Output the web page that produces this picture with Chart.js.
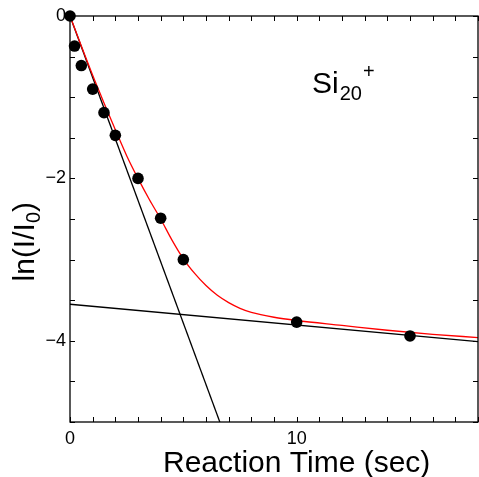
<!DOCTYPE html>
<html>
<head>
<meta charset="utf-8">
<script src="https://cdn.jsdelivr.net/npm/chart.js@4.4.1/dist/chart.umd.min.js"></script>
<style>
  html, body { margin: 0; padding: 0; background: #fff; }
  #wrap { width: 479px; height: 477px; position: relative; }
</style>
</head>
<body>
<div id="wrap"><canvas id="decayChart"></canvas></div>
<script>
// measured points
var reactionTime = [0, 0.2, 0.5, 1, 1.5, 2, 3, 4, 5, 10, 15];
var lnRatio      = [0, -0.37, -0.61, -0.90, -1.19, -1.47, -2.0, -2.49, -3.0, -3.77, -3.94];

// red fit curve
var fitTime = [0, 0.5, 1, 1.5, 2, 2.5, 3, 3.5, 4, 4.5, 5, 5.5, 6, 6.5, 7, 7.5, 8, 9, 10, 12, 14, 16, 18];
var fitLn   = [0, -0.37, -0.73, -1.07, -1.40, -1.72, -2.00, -2.26, -2.50, -2.76, -2.99, -3.17, -3.32, -3.44, -3.53, -3.60, -3.65, -3.71, -3.75, -3.81, -3.87, -3.92, -3.96];

// two straight component lines
var fastLineTime = [0, 6.61];
var fastLineLn   = [0, -5];
var slowLineTime = [0, 18];
var slowLineLn   = [-3.55, -4.01];

// axis ticks
var xLabelTicks = [0, 10];
var yLabelTicks = [-4, -2, 0];

function toPoints(xs, ys) {
    return xs.map(function (x, i) { return { x: x, y: ys[i] }; });
}

var FONT = '"Liberation Sans", Arial, Helvetica, sans-serif';

var frameAndTicks = {
    id: 'frameAndTicks',
    afterDatasetsDraw: function (chart) {
        var ctx = chart.ctx, a = chart.chartArea;
        var xs = chart.scales.x, ys = chart.scales.y;
        var len = 5;
        ctx.save();
        ctx.strokeStyle = '#000';
        ctx.lineWidth = 1.3;
        ctx.strokeRect(a.left, a.top, a.right - a.left, a.bottom - a.top);
        ctx.lineWidth = 1;
        ctx.beginPath();
        xs.ticks.forEach(function (t) {
            var px = Math.round(xs.getPixelForValue(t.value)) + 0.5;
            ctx.moveTo(px, a.bottom); ctx.lineTo(px, a.bottom - len);
            ctx.moveTo(px, a.top);    ctx.lineTo(px, a.top + len);
        });
        ys.ticks.forEach(function (t) {
            var py = Math.round(ys.getPixelForValue(t.value)) + 0.5;
            ctx.moveTo(a.left, py);  ctx.lineTo(a.left + len, py);
            ctx.moveTo(a.right, py); ctx.lineTo(a.right - len, py);
        });
        ctx.stroke();

        ctx.fillStyle = '#000';
        ctx.textBaseline = 'alphabetic';
        ctx.textAlign = 'left';

        // x title
        ctx.font = '30px ' + FONT;
        var xt = 'Reaction Time (sec)';
        var xw = ctx.measureText(xt).width;
        ctx.fillText(xt, xs.getPixelForValue(10) - xw / 2, 472);

        // y title ln(I/I0)
        ctx.save();
        ctx.translate(34, ys.getPixelForValue(-2.78));
        ctx.rotate(-Math.PI / 2);
        ctx.font = '30px ' + FONT;
        var p1 = 'ln(I/I', p3 = ')';
        var w1 = ctx.measureText(p1).width, w3 = ctx.measureText(p3).width;
        ctx.font = '20px ' + FONT;
        var w2 = ctx.measureText('0').width;
        var sx = -(w1 + w2 + w3) / 2;
        ctx.font = '30px ' + FONT;
        ctx.fillText(p1, sx, 0);
        ctx.font = '20px ' + FONT;
        ctx.fillText('0', sx + w1, 6);
        ctx.font = '30px ' + FONT;
        ctx.fillText(p3, sx + w1 + w2, 0);
        ctx.restore();

        // Si20+ label
        ctx.font = '30px ' + FONT;
        ctx.fillText('Si', 312, 93);
        var sw = ctx.measureText('Si').width;
        ctx.font = '20px ' + FONT;
        ctx.fillText('20', 312 + sw + 1, 100);
        var nw = ctx.measureText('20').width;
        ctx.fillText('+', 312 + sw + nw + 2, 78);
        ctx.restore();
    }
};

new Chart(document.getElementById('decayChart').getContext('2d'), {
    type: 'scatter',
    data: {
        datasets: [
            {
                data: toPoints(fastLineTime, fastLineLn),
                showLine: true,
                borderColor: '#000',
                borderWidth: 1.3,
                pointRadius: 0,
                order: 3
            },
            {
                data: toPoints(slowLineTime, slowLineLn),
                showLine: true,
                borderColor: '#000',
                borderWidth: 1.3,
                pointRadius: 0,
                order: 3
            },
            {
                data: toPoints(fitTime, fitLn),
                showLine: true,
                borderColor: '#ff0000',
                borderWidth: 1.3,
                pointRadius: 0,
                cubicInterpolationMode: 'monotone',
                order: 2
            },
            {
                data: toPoints(reactionTime, lnRatio),
                showLine: false,
                pointRadius: 5.8,
                pointBackgroundColor: '#000',
                pointBorderWidth: 0,
                clip: 10,
                order: 1
            }
        ]
    },
    options: {
        responsive: true,
        maintainAspectRatio: false,
        animation: false,
        layout: { autoPadding: false, padding: { top: 16, right: 1, left: 0, bottom: 0 } },
        plugins: {
            legend: { display: false },
            tooltip: { enabled: false }
        },
        scales: {
            x: {
                min: 0,
                max: 18,
                afterFit: function (s) {
                    s.height = 55;
                    s.paddingLeft = 0;
                    s.paddingRight = 0;
                },
                border: { display: false },
                grid: { display: false, drawTicks: false },
                ticks: {
                    stepSize: 1,
                    autoSkip: false,
                    maxRotation: 0,
                    padding: 6,
                    color: '#000',
                    font: { family: FONT, size: 18 },
                    callback: function (v) { return xLabelTicks.indexOf(v) >= 0 ? String(v) : ''; }
                }
            },
            y: {
                min: -5,
                max: 0,
                afterFit: function (s) {
                    s.width = 70;
                    s.paddingTop = 0;
                    s.paddingBottom = 0;
                },
                border: { display: false },
                grid: { display: false, drawTicks: false },
                ticks: {
                    stepSize: 0.5,
                    autoSkip: false,
                    padding: 4,
                    color: '#000',
                    font: { family: FONT, size: 18 },
                    callback: function (v) {
                        if (yLabelTicks.indexOf(v) < 0) return '';
                        return v < 0 ? '\u2212' + Math.abs(v) : String(v);
                    }
                }
            }
        }
    },
    plugins: [frameAndTicks]
});
</script>
</body>
</html>
